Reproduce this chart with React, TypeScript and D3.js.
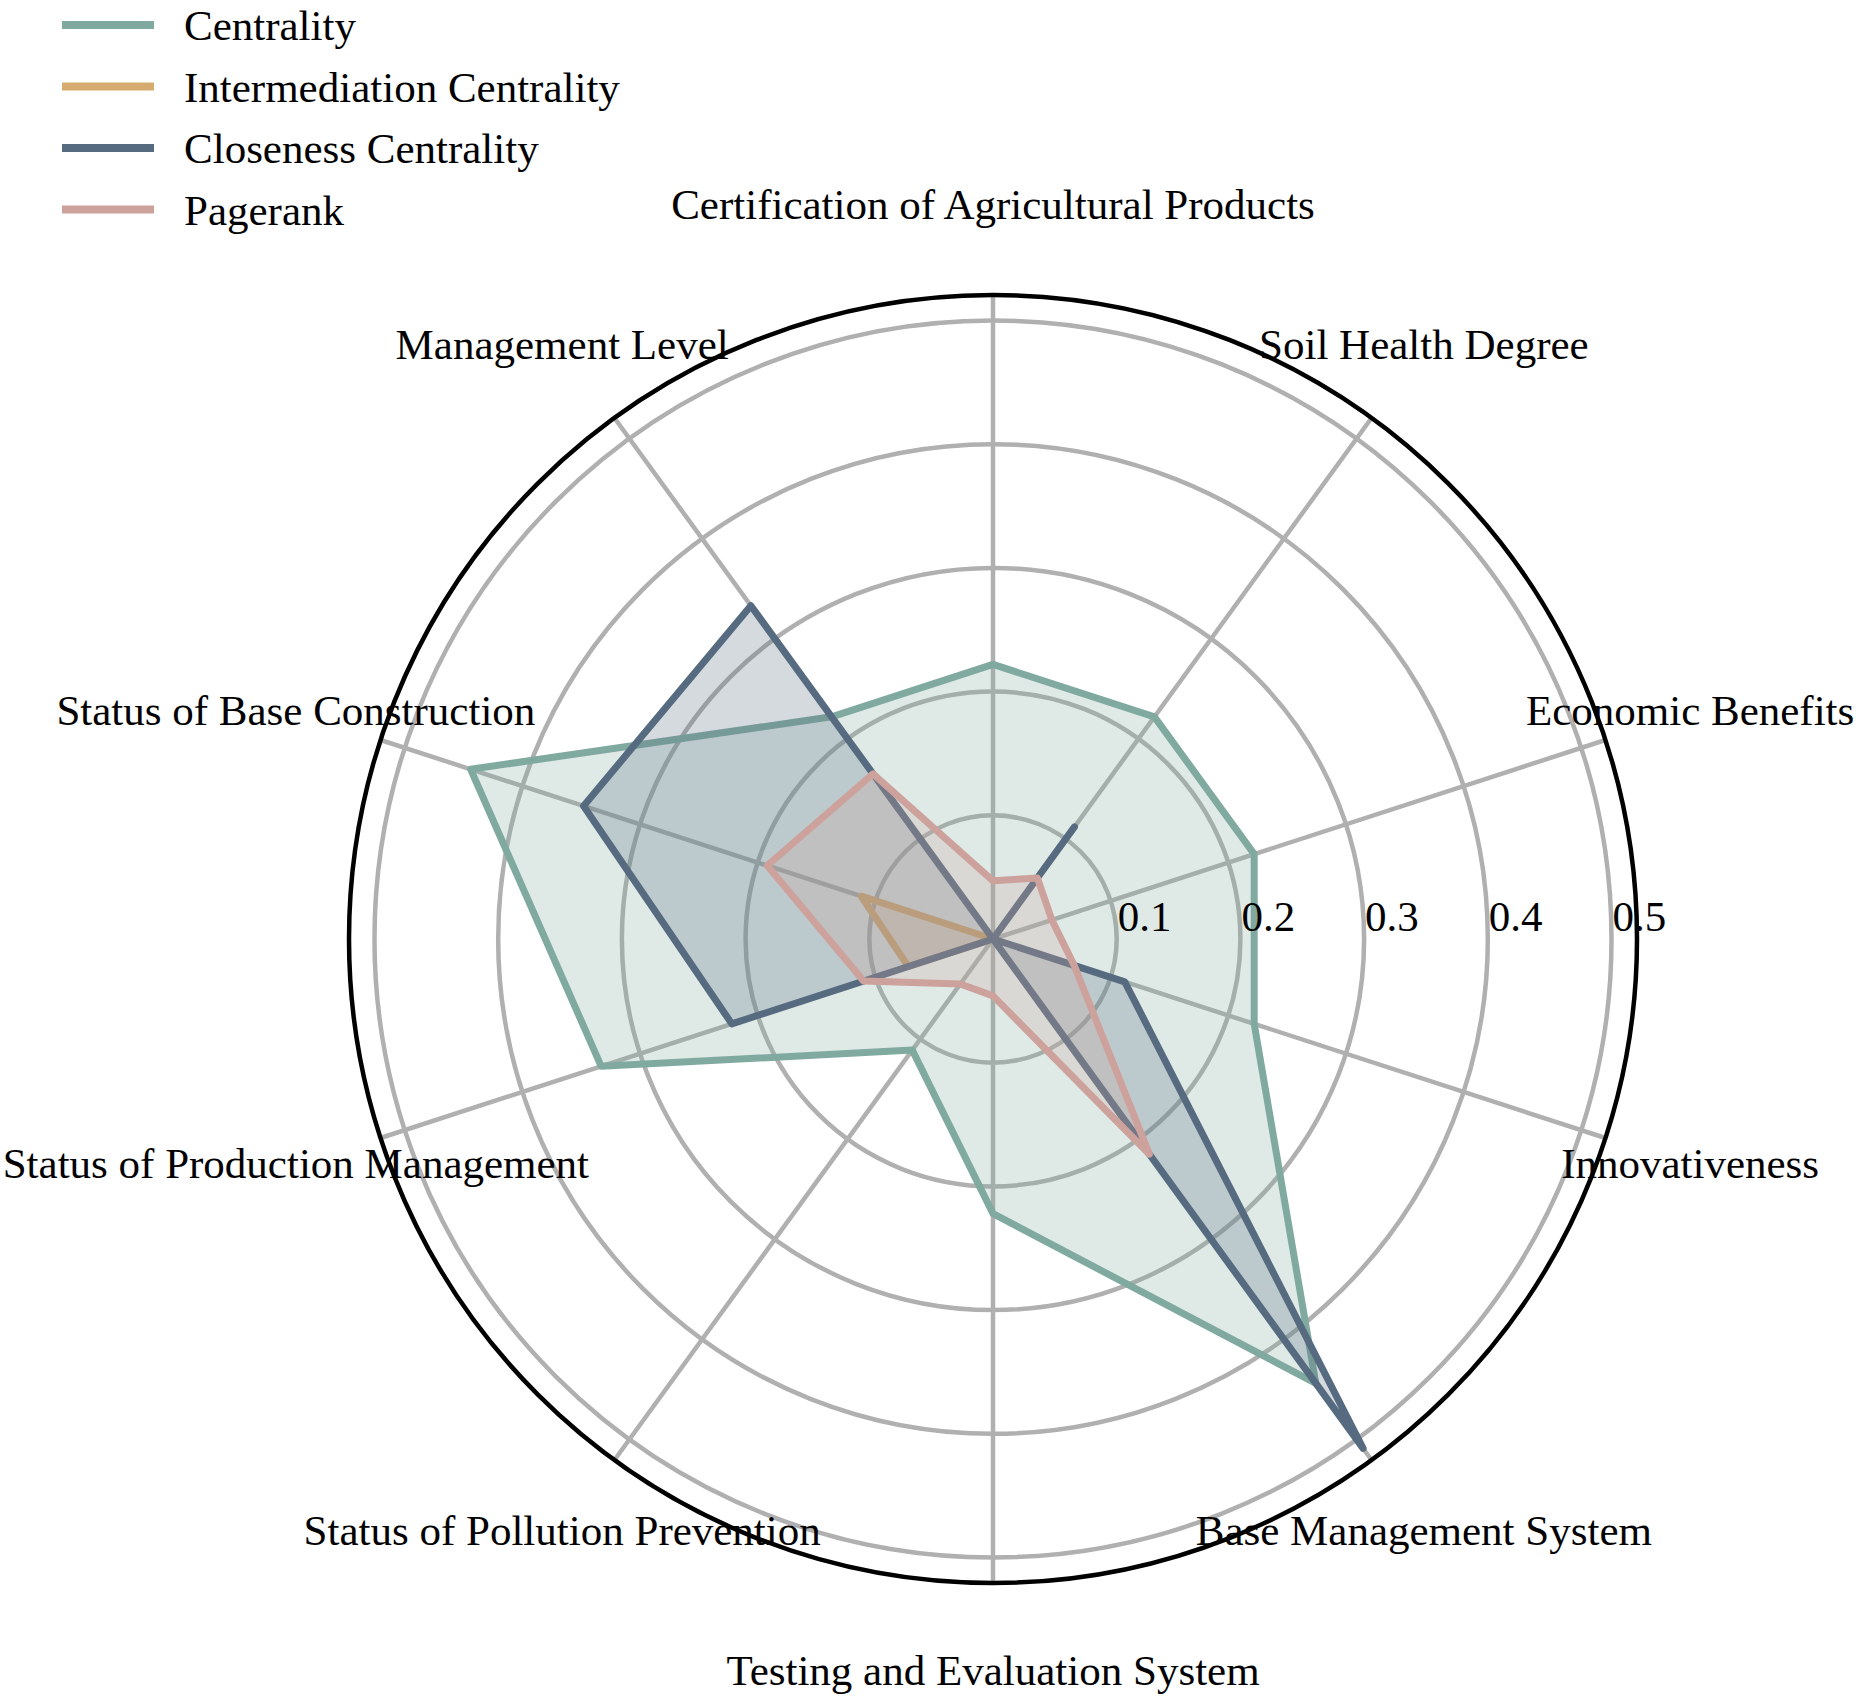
import React from "react";
import * as d3 from "d3";

const categories = [
  "Certification of Agricultural Products",
  "Soil Health Degree",
  "Economic Benefits",
  "Innovativeness",
  "Base Management System",
  "Testing and Evaluation System",
  "Status of Pollution Prevention",
  "Status of Production Management",
  "Status of Base Construction",
  "Management Level",
];

const centrality = [0.222, 0.222, 0.222, 0.222, 0.444, 0.222, 0.111, 0.333, 0.444, 0.222];
const intermediation = [0, 0, 0, 0, 0, 0, 0, 0.072, 0.112, 0];
const closeness = [0, 0.112, 0, 0.112, 0.509, 0, 0, 0.222, 0.348, 0.333];
const pagerank = [0.047, 0.061, 0.05, 0.069, 0.215, 0.046, 0.045, 0.11, 0.192, 0.165];

const seriesNames = ["Centrality", "Intermediation Centrality", "Closeness Centrality", "Pagerank"];
const seriesColors = ["#80AAA0", "#D5AB6F", "#576B80", "#CDA29D"];
const seriesValues = [centrality, intermediation, closeness, pagerank];

const radialTicks = [0.1, 0.2, 0.3, 0.4, 0.5];
const rMaxValue = 0.5206;

const W = 1859;
const H = 1697;
const CX = 993;
const CY = 939;
const R = 644;
const LABEL_R = 733;
const FONT = "'Liberation Serif', 'Times New Roman', Times, serif";

export default function App() {
  const r = d3.scaleLinear().domain([0, rMaxValue]).range([0, R]);
  const angle = d3
    .scaleLinear()
    .domain([0, categories.length])
    .range([0, 2 * Math.PI]);

  const line = d3
    .lineRadial<number>()
    .angle((_, i) => angle(i))
    .radius((d) => r(d))
    .curve(d3.curveLinearClosed);

  return (
    <svg
      width={W}
      height={H}
      viewBox={`0 0 ${W} ${H}`}
      style={{ position: "absolute", left: 0, top: 0, display: "block", background: "#fff" }}
      fontFamily={FONT}
    >
      <g transform={`translate(${CX},${CY})`}>
        {radialTicks.map((t) => (
          <circle key={"c" + t} r={r(t)} fill="none" stroke="#b0b0b0" strokeWidth={4.5} />
        ))}
        {categories.map((c, i) => {
          const a = angle(i);
          return (
            <line
              key={"s" + c}
              x1={0}
              y1={0}
              x2={R * Math.sin(a)}
              y2={-R * Math.cos(a)}
              stroke="#b0b0b0"
              strokeWidth={4.5}
            />
          );
        })}
        {seriesValues.map((vals, k) => (
          <g key={"g" + k}>
            <path d={line(vals) || ""} fill={seriesColors[k]} fillOpacity={0.25} stroke="none" />
            <path
              d={line(vals) || ""}
              fill="none"
              stroke={seriesColors[k]}
              strokeWidth={7}
              strokeLinejoin="round"
              strokeLinecap="round"
            />
          </g>
        ))}
        <circle r={R} fill="none" stroke="#000" strokeWidth={4.5} />
        {radialTicks.map((t) => (
          <text key={"t" + t} x={r(t) + 1} y={-8} fontSize={43} textAnchor="start" fill="#000">
            {t.toFixed(1)}
          </text>
        ))}
        {categories.map((c, i) => {
          const a = angle(i);
          return (
            <text
              key={"l" + c}
              x={LABEL_R * Math.sin(a)}
              y={-LABEL_R * Math.cos(a)}
              dy="0.3em"
              fontSize={43}
              textAnchor="middle"
              fill="#000"
            >
              {c}
            </text>
          );
        })}
      </g>
      <g>
        {seriesNames.map((n, k) => {
          const y = 25 + k * 61.5;
          return (
            <g key={"lg" + k}>
              <line x1={62} x2={154} y1={y} y2={y} stroke={seriesColors[k]} strokeWidth={8} />
              <text x={184} y={y} dy="0.35em" fontSize={43} fill="#000">
                {n}
              </text>
            </g>
          );
        })}
      </g>
    </svg>
  );
}
